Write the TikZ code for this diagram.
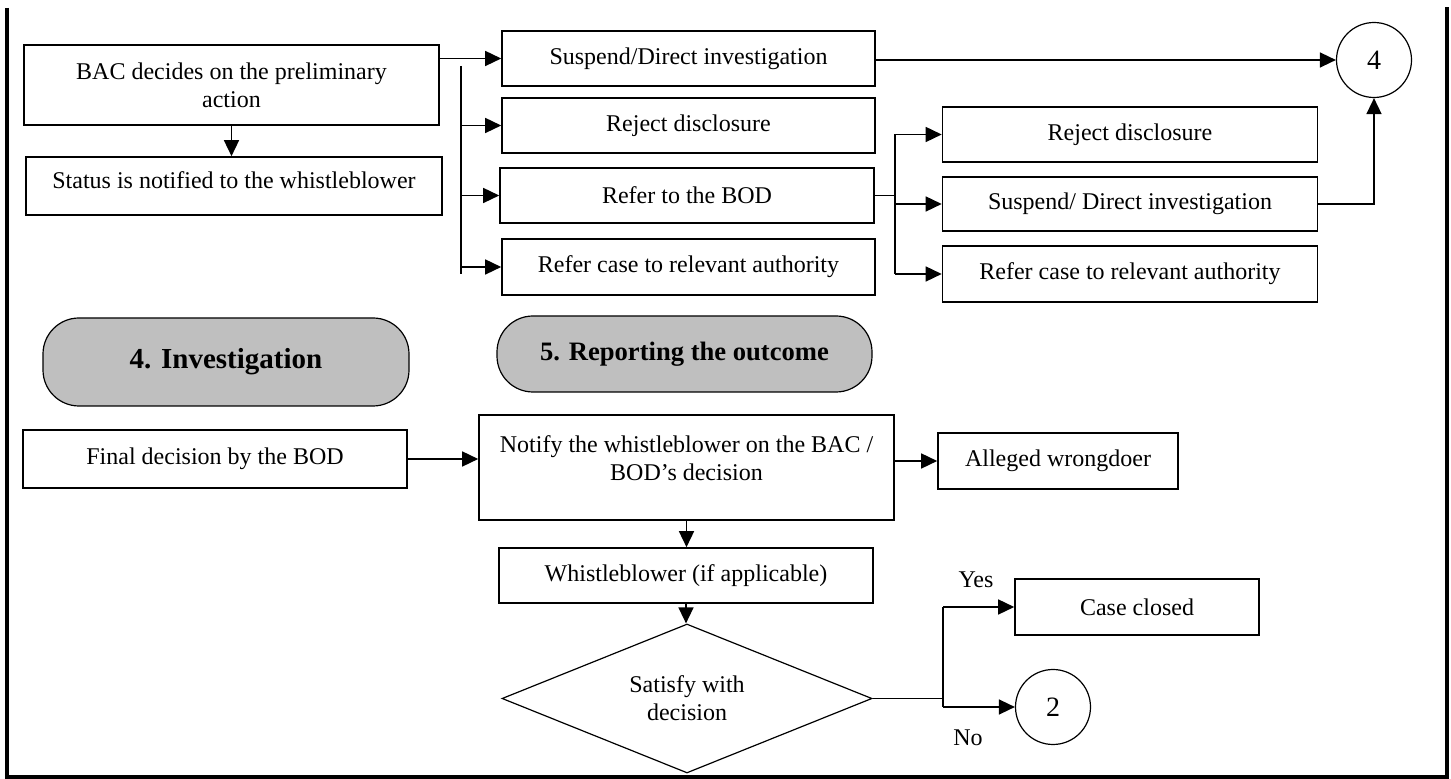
\documentclass[tikz,border=0pt]{standalone}
\usepackage{fontspec}
\setmainfont{Liberation Serif}
\usetikzlibrary{arrows.meta,shapes.geometric}
\begin{document}
\begin{tikzpicture}[x=0.5pt, y=-0.5pt,
			box/.style={draw, line width=0.8pt, minimum height=27.5pt, inner sep=2pt, align=center, font=\fontsize{12}{14}\selectfont},
			phase/.style={draw, line width=0.6pt, fill=black!25, rounded corners=18pt, font=\fontsize{13.3}{15}\selectfont\bfseries},
			bubble/.style={circle, draw, line width=0.6pt, minimum size=37.5pt, inner sep=0pt, font=\fontsize{14}{16}\selectfont},
			decision/.style={diamond, draw, line width=0.6pt, aspect=2.48, minimum width=185pt, minimum height=74.5pt, inner sep=0pt, align=center, font=\fontsize{12}{14}\selectfont},
			link/.style={line width=0.75pt},
			flow/.style={link, -{Triangle[length=8pt, width=7.5pt]}}]
			\useasboundingbox (0,0) rectangle (1451,779);
			\draw[line width=1.6pt] (7,8) -- (7,777) -- (1447,777) -- (1447,7);
			
			% preliminary action
			\node[box, minimum width=207.5pt, minimum height=40pt] (bac) at (231.5,85) {BAC decides on the preliminary\\action};
			\node[box, minimum width=208pt, minimum height=29pt, text depth=6pt] (status) at (234,186) {Status is notified to the whistleblower};
			\node[box, minimum width=186.5pt] (sus) at (688.5,58.5) {Suspend/Direct investigation};
			\node[box, minimum width=186.5pt] (rej) at (688.5,125.5) {Reject disclosure};
			\node[box, minimum width=187pt] (bod) at (687,195.5) {Refer to the BOD};
			\node[box, minimum width=186.5pt, minimum height=28pt] (refer) at (688.5,267) {Refer case to relevant authority};
			\node[box, minimum width=187.5pt] (rej2) at (1130,134.5) {Reject disclosure};
			\node[box, minimum width=187.5pt, minimum height=27pt] (sus2) at (1130,204) {Suspend/ Direct investigation};
			\node[box, minimum width=187.5pt, minimum height=28pt] (refer2) at (1130,274) {Refer case to relevant authority};
			\node[bubble] (four) at (1374,60) {4};
			
			\draw[flow] (bac.south) -- (bac.south |- status.north);
			\draw[flow] (bac.east |- sus) -- (sus);
			\coordinate (fork) at (461,66);
			\coordinate (forkend) at (461,274);
			\draw[link] (fork) -- (forkend);
			\foreach \n in {rej,bod,refer}{
			  \draw[flow] (fork |- \n) -- (\n);
			}
			\coordinate (fork2) at (895,0);
			\draw[link] (bod) -- (fork2 |- bod);
			\draw[link] (fork2 |- rej2) -- (fork2 |- refer2);
			\foreach \n in {rej2,sus2,refer2}{
			  \draw[flow] (fork2 |- \n) -- (\n);
			}
			\draw[flow] (sus.east |- four) -- (four);
			\draw[flow] (sus2) -| (four);
			
			% phases
			\node[phase, minimum width=183pt, minimum height=44pt, font=\fontsize{14.5}{16}\selectfont\bfseries] (invest) at (226,362) {4. Investigation};
			\node[phase, minimum width=187.5pt, minimum height=38pt] (report) at (684.5,354) {5. Reporting the outcome};
			
			% outcome
			\node[box, minimum width=192pt, minimum height=29pt] (final) at (215,459) {Final decision by the BOD};
			\node[box, minimum width=207.5pt, minimum height=52.5pt, text depth=9pt] (notify) at (686.5,467.5) {Notify the whistleblower on the BAC /\\BOD’s decision};
			\node[box, minimum width=120pt, minimum height=28pt] (alleged) at (1058,461) {Alleged wrongdoer};
			\node[box, minimum width=187pt] (whistle) at (686,575.5) {Whistleblower (if applicable)};
			\node[decision] (satisfy) at (687,698.5) {Satisfy with\\decision};
			\node[box, minimum width=122pt, minimum height=28pt] (closed) at (1137,607) {Case closed};
			\node[bubble] (two) at (1053,707) {2};
			\node[font=\fontsize{12}{14}\selectfont] (yes) at (976,580) {Yes};
			\node[font=\fontsize{12}{14}\selectfont] (no) at (968,738) {No};
			
			\draw[flow] (final) -- (final -| notify.west);
			\draw[flow] (notify.east |- alleged) -- (alleged);
			\draw[flow] (notify.south) -- (notify.south |- whistle.north);
			\draw[flow] (whistle.south) -- (whistle.south |- satisfy.north);
			\coordinate (fork3) at (943,0);
			\draw[link] (satisfy.east) -- (satisfy.east -| fork3);
			\draw[link] (fork3 |- closed) -- (fork3 |- two);
			\foreach \n in {closed,two}{
			  \draw[flow] (fork3 |- \n) -- (\n);
			}
\end{tikzpicture}
\end{document}
